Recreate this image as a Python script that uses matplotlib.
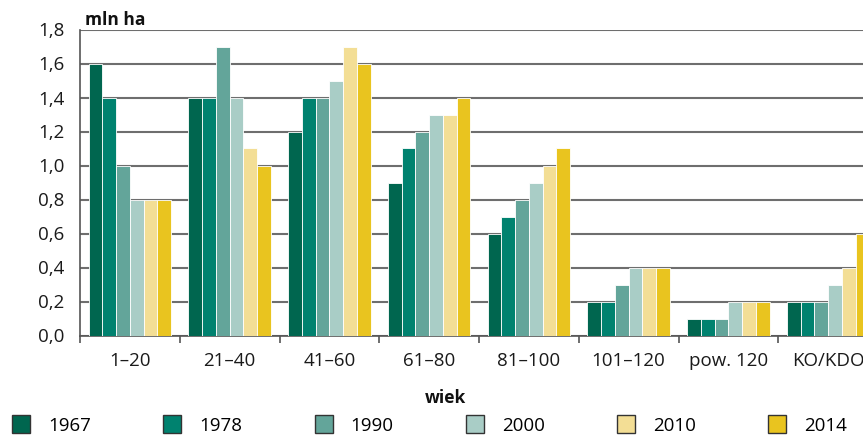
import matplotlib.pyplot as plt
from matplotlib.lines import Line2D
import numpy as np

plt.rcParams['font.family'] = ['Open Sans', 'DejaVu Sans']

# Area of forest by age class (mln ha) in successive inventory years
categories = ['1–20', '21–40', '41–60', '61–80', '81–100', '101–120', 'pow. 120', 'KO/KDO']
years = ['1967', '1978', '1990', '2000', '2010', '2014']
area_1967 = [1.6, 1.4, 1.2, 0.9, 0.6, 0.2, 0.1, 0.2]
area_1978 = [1.4, 1.4, 1.4, 1.1, 0.7, 0.2, 0.1, 0.2]
area_1990 = [1.0, 1.7, 1.4, 1.2, 0.8, 0.3, 0.1, 0.2]
area_2000 = [0.8, 1.4, 1.5, 1.3, 0.9, 0.4, 0.2, 0.3]
area_2010 = [0.8, 1.1, 1.7, 1.3, 1.0, 0.4, 0.2, 0.4]
area_2014 = [0.8, 1.0, 1.6, 1.4, 1.1, 0.4, 0.2, 0.6]
y_ticks = [0.0, 0.2, 0.4, 0.6, 0.8, 1.0, 1.2, 1.4, 1.6, 1.8]

series = [area_1967, area_1978, area_1990, area_2000, area_2010, area_2014]
colors = ['#00664f', '#00826f', '#63a59a', '#a9cdc6', '#f3de95', '#e9c41f']

W, H = 863, 437
fig = plt.figure(figsize=(W / 100, H / 100), dpi=100)
ax = fig.add_axes([80 / W, 1 - 335.5 / H, 798 / W, 306 / H])

x = np.arange(len(categories))
bw = 0.1375
for j, (vals, col) in enumerate(zip(series, colors)):
    ax.bar(x + (j - 2.5) * bw, vals, width=bw, color=col,
           edgecolor='white', linewidth=0.6, zorder=3)

ax.set_xlim(-0.5, len(categories) - 0.5)
ax.set_ylim(0, 1.8)
ax.set_yticks(y_ticks)
ax.set_yticklabels([f'{v:.1f}'.replace('.', ',') for v in y_ticks])
ax.yaxis.grid(True, color='#6e6e6e', linewidth=1.5, zorder=0)
ax.set_axisbelow(True)

ax.set_xticks(x)
ax.set_xticklabels(categories)
ax.set_xticks(np.arange(len(categories) + 1) - 0.5, minor=True)
ax.tick_params(axis='x', which='major', length=0, pad=12, labelsize=13.5, colors='#1a1a1a')
ax.tick_params(axis='x', which='minor', length=5, width=1.2, color='#555555', direction='out')
ax.tick_params(axis='y', length=0, pad=11, labelsize=13.5, colors='#1a1a1a')

for side in ['top', 'right']:
    ax.spines[side].set_visible(False)
for side in ['left', 'bottom']:
    ax.spines[side].set_color('#555555')
    ax.spines[side].set_linewidth(1.2)

fig.text(85 / W, 1 - 25 / H, 'mln ha', fontweight='bold', fontsize=12.5,
         va='baseline', ha='left', color='#111111')
fig.text(445 / W, 1 - 403 / H, 'wiek', fontweight='bold', fontsize=12.5,
         va='baseline', ha='center', color='#111111')

handles = [Line2D([], [], linestyle='none', marker='s', markersize=12.5,
                  markerfacecolor=c, markeredgecolor='#333333', markeredgewidth=1.0)
           for c in colors]
fig.legend(handles, years, ncol=6, loc='center left',
           bbox_to_anchor=(11 / W, 1 - 426 / H), frameon=False,
           borderpad=0, borderaxespad=0, handlelength=1.1, handletextpad=0.9,
           columnspacing=3.77, fontsize=13.5)

fig.savefig('out.png', dpi=100)
